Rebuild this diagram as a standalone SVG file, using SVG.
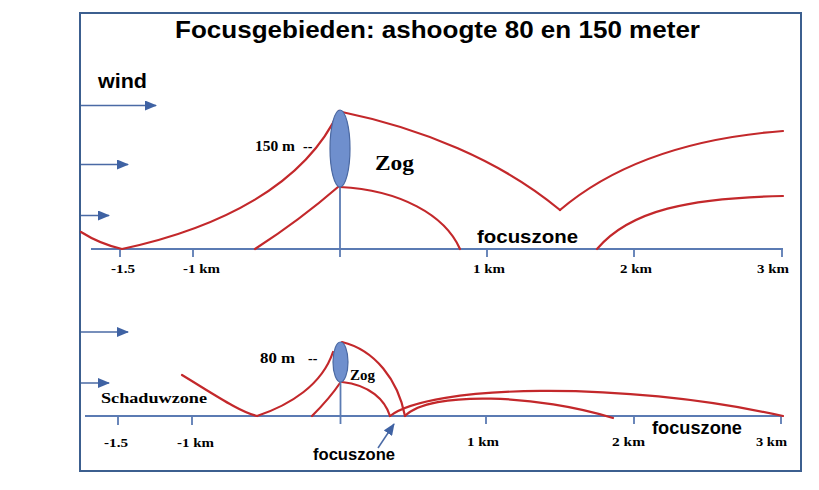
<svg xmlns="http://www.w3.org/2000/svg" width="819" height="490" viewBox="0 0 819 490">
<defs>
<marker id="ah" viewBox="0 0 12 10" refX="11" refY="5" markerWidth="12" markerHeight="10" markerUnits="userSpaceOnUse" orient="auto">
<path d="M0 0 L12 5 L0 10 Z" fill="#3f62a3"/>
</marker>
<style>
.frame{fill:#fff;stroke:#3c5f8f;stroke-width:2}
.axis{stroke:#5b7bb3;stroke-width:1.8;fill:none}
.wind{stroke:#4a6aa5;stroke-width:1.5;fill:none}
.red{stroke:#c3282b;stroke-width:2.2;fill:none;stroke-linecap:round}
.rotor{fill:#6f8fcd;stroke:#4a68a2;stroke-width:1.2}
.sans{font-family:"Liberation Sans",Arial,sans-serif;font-weight:bold;fill:#000}
.serif{font-family:"Liberation Serif","Times New Roman",serif;font-weight:bold;fill:#000}
.tick{font-family:"Liberation Serif","Times New Roman",serif;font-weight:bold;font-size:13.5px;fill:#000}
</style>
</defs>
<rect class="frame" x="80" y="13" width="721" height="458"/>
<text class="sans" x="175" y="38" font-size="24" textLength="525" lengthAdjust="spacingAndGlyphs">Focusgebieden: ashoogte 80 en 150 meter</text>
<text class="sans" x="98" y="88" font-size="21" textLength="49" lengthAdjust="spacingAndGlyphs">wind</text>

<g id="wind-arrows">
<line class="wind" x1="81" y1="105.5" x2="156" y2="105.5" marker-end="url(#ah)"/>
<line class="wind" x1="81" y1="164.5" x2="128" y2="164.5" marker-end="url(#ah)"/>
<line class="wind" x1="81" y1="215.5" x2="109" y2="215.5" marker-end="url(#ah)"/>
<line class="wind" x1="81" y1="332" x2="128" y2="332" marker-end="url(#ah)"/>
<line class="wind" x1="81" y1="383" x2="109" y2="383" marker-end="url(#ah)"/>
</g>

<g id="axis-top">
<path class="axis" d="M91 249 H783 M120 249 V257 M193 249 V257 M487 249 V257 M634 249 V257 M782 249 V257"/>
<text class="tick" x="111" y="273" textLength="24" lengthAdjust="spacingAndGlyphs">-1.5</text>
<text class="tick" x="183" y="273" textLength="37" lengthAdjust="spacingAndGlyphs">-1 km</text>
<text class="tick" x="473" y="273" textLength="32" lengthAdjust="spacingAndGlyphs">1 km</text>
<text class="tick" x="620" y="273" textLength="32" lengthAdjust="spacingAndGlyphs">2 km</text>
<text class="tick" x="757" y="273" textLength="32" lengthAdjust="spacingAndGlyphs">3 km</text>
</g>

<g id="axis-bottom">
<path class="axis" d="M85 416 H783 M118 416 V425 M192 416 V425 M486 416 V424 M634 416 V424 M781 416 V424"/>
<text class="tick" x="104" y="447" textLength="24" lengthAdjust="spacingAndGlyphs">-1.5</text>
<text class="tick" x="177" y="447" textLength="37" lengthAdjust="spacingAndGlyphs">-1 km</text>
<text class="tick" x="467" y="446" textLength="32" lengthAdjust="spacingAndGlyphs">1 km</text>
<text class="tick" x="612" y="446" textLength="33" lengthAdjust="spacingAndGlyphs">2 km</text>
<text class="tick" x="756" y="446" textLength="31" lengthAdjust="spacingAndGlyphs">3 km</text>
</g>

<g id="connectors">
<!-- top panel, 150 m -->
<path class="red" d="M81 232 Q100 244 122 249 C220 228 305 185 339 111"/>
<path class="red" d="M255 249 Q300 220 338 187"/>
<path class="red" d="M342 112 C420 128 500 160 560 210"/>
<path class="red" d="M560 210 Q640 142 783 131"/>
<path class="red" d="M340 187 C400 190 445 215 460 249"/>
<path class="red" d="M597 249 C630 210 690 198 783 196"/>
<!-- bottom panel, 80 m -->
<path class="red" d="M182 375 C215 395 240 412 257 416 C290 405 322 385 333 352"/>
<path class="red" d="M312 416 Q330 398 340 383"/>
<path class="red" d="M342 342 C375 350 398 380 405 416"/>
<path class="red" d="M342 382 C370 385 385 400 390 416"/>
<path class="red" d="M390 416 C430 385 620 380 783 416"/>
<path class="red" d="M405 416 C430 390 540 395 613 418"/>
<line class="wind" x1="378" y1="448" x2="394" y2="424" marker-end="url(#ah)"/>
</g>

<g id="turbine-150">
<line class="axis" x1="340" y1="187" x2="340" y2="257"/>
<ellipse class="rotor" cx="340" cy="148.5" rx="10" ry="38.5"/>
<text class="serif" x="255" y="151" font-size="14" textLength="40" lengthAdjust="spacingAndGlyphs">150 m</text>
<text class="serif" x="303" y="151" font-size="14">--</text>
<text class="serif" x="375" y="170" font-size="22" textLength="39" lengthAdjust="spacingAndGlyphs">Zog</text>
</g>

<g id="turbine-80">
<line class="axis" x1="340.5" y1="382" x2="340.5" y2="424"/>
<ellipse class="rotor" cx="340.5" cy="362" rx="7.5" ry="20"/>
<text class="serif" x="260" y="363" font-size="14" textLength="35" lengthAdjust="spacingAndGlyphs">80 m</text>
<text class="serif" x="308" y="363" font-size="14">--</text>
<text class="serif" x="350" y="380" font-size="15" textLength="25" lengthAdjust="spacingAndGlyphs">Zog</text>
</g>

<g id="labels">
<text class="sans" x="477" y="243" font-size="18" textLength="101" lengthAdjust="spacingAndGlyphs">focuszone</text>
<text class="serif" x="101" y="403" font-size="15" textLength="106" lengthAdjust="spacingAndGlyphs">Schaduwzone</text>
<text class="sans" x="313" y="460" font-size="16" textLength="82" lengthAdjust="spacingAndGlyphs">focuszone</text>
<text class="sans" x="652" y="434" font-size="18" textLength="90" lengthAdjust="spacingAndGlyphs">focuszone</text>
</g>
</svg>
